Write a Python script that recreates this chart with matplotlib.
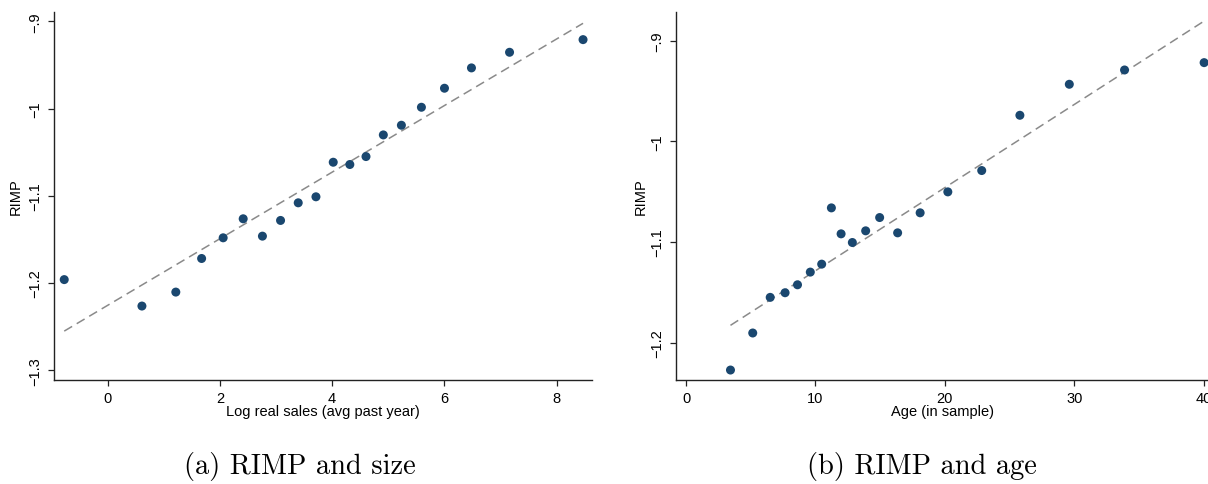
import matplotlib
matplotlib.use("Agg")
import matplotlib.pyplot as plt
import numpy as np

# ---- data ----
size_x = [-0.775, 0.61, 1.214, 1.674, 2.058, 2.415, 2.758, 3.081, 3.396, 3.712,
          4.02, 4.316, 4.604, 4.913, 5.235, 5.592, 6.003, 6.484, 7.163, 8.473]
size_y = [-1.196, -1.2263, -1.2103, -1.1718, -1.1481, -1.1263, -1.1462, -1.1282, -1.108, -1.1011,
          -1.0615, -1.0641, -1.055, -1.0302, -1.0191, -0.9985, -0.9767, -0.9534, -0.9355, -0.921]
size_fit_x = [-0.775, 8.473]
size_fit_y = [-1.255, -0.9023]

age_x = [3.43, 5.15, 6.50, 7.65, 8.61, 9.60, 10.48, 11.23, 11.98, 12.85,
         13.88, 14.96, 16.35, 18.09, 20.23, 22.85, 25.80, 29.62, 33.89, 40.04]
age_y = [-1.2272, -1.1904, -1.155, -1.1504, -1.1425, -1.1299, -1.122, -1.0661, -1.0919, -1.1005,
         -1.0889, -1.0757, -1.0909, -1.071, -1.0502, -1.029, -0.9741, -0.9433, -0.9291, -0.9218]
age_fit_x = [3.43, 40.04]
age_fit_y = [-1.1828, -0.8805]

size_xticks = [0, 2, 4, 6, 8]
size_xticklabels = ["0", "2", "4", "6", "8"]
size_yticks = [-1.3, -1.2, -1.1, -1.0, -0.9]
size_yticklabels = ["\u22121.3", "\u22121.2", "\u22121.1", "\u22121", "\u2212.9"]

age_xticks = [0, 10, 20, 30, 40]
age_xticklabels = ["0", "10", "20", "30", "40"]
age_yticks = [-1.2, -1.1, -1.0, -0.9]
age_yticklabels = ["\u22121.2", "\u22121.1", "\u22121", "\u2212.9"]

size_xlabel = "Log real sales (avg past year)"
age_xlabel = "Age (in sample)"
ylabel = "RIMP"
captions = ["(a) RIMP and size", "(b) RIMP and age"]

# ---- style ----
plt.rcParams['font.family'] = ['Liberation Sans', 'DejaVu Sans']
NAVY = "#1a476f"
W, H = 1208, 485
fig = plt.figure(figsize=(W / 100, H / 100), dpi=100)

def px_axes(x0, x1, ytop, ybot):
    return fig.add_axes([x0 / W, 1 - ybot / H, (x1 - x0) / W, (ybot - ytop) / H])

ax1 = px_axes(54.3, 592.3, 12.7, 380.7)
ax2 = px_axes(676.4, 1208, 12.7, 380.7)

panels = [
    (ax1, size_x, size_y, size_fit_x, size_fit_y, size_xticks, size_xticklabels,
     size_yticks, size_yticklabels, size_xlabel, (-0.952, 8.638), (-1.3107, -0.889), -0.071),
    (ax2, age_x, age_y, age_fit_x, age_fit_y, age_xticks, age_xticklabels,
     age_yticks, age_yticklabels, age_xlabel, (-0.75, 40.34), (-1.2368, -0.8712), -0.068),
]

FS = 10.5
for (ax, x, y, fx, fy, xt, xtl, yt, ytl, xl, xlim, ylim, ylab_x) in panels:
    ax.plot(fx, fy, color="#8a8a8a", lw=1.1, dashes=(6, 3.5), zorder=2)
    ax.scatter(x, y, s=42, color=NAVY, edgecolors="none", zorder=3, clip_on=False)
    ax.set_xlim(*xlim)
    ax.set_ylim(*ylim)
    ax.set_xticks(xt)
    ax.set_xticklabels(xtl)
    ax.set_yticks(yt)
    ax.set_yticklabels(ytl, rotation=90, va="center")
    for s in ("top", "right"):
        ax.spines[s].set_visible(False)
    for s in ("left", "bottom"):
        ax.spines[s].set_linewidth(1.0)
        ax.spines[s].set_color("#222222")
    ax.tick_params(direction="out", length=4, width=0.9, color="#222222",
                   labelsize=FS, labelcolor="black")
    ax.tick_params(axis="x", pad=4)
    ax.tick_params(axis="y", pad=5)
    ax.set_xlabel(xl, fontsize=FS)
    ax.xaxis.label.set_va("center")
    ax.xaxis.set_label_coords(0.5, -0.084)
    ax.set_ylabel(ylabel, fontsize=FS)
    ax.yaxis.label.set_va("center")
    ax.yaxis.set_label_coords(ylab_x, 0.5)
    ax.set_facecolor("white")

fig.text(300 / W, 1 - 467 / H, captions[0], family="cmr10", fontsize=20.5,
         ha="center", va="center")
fig.text(922 / W, 1 - 467 / H, captions[1], family="cmr10", fontsize=20.5,
         ha="center", va="center")

fig.savefig("out.png", dpi=100, facecolor="white")
